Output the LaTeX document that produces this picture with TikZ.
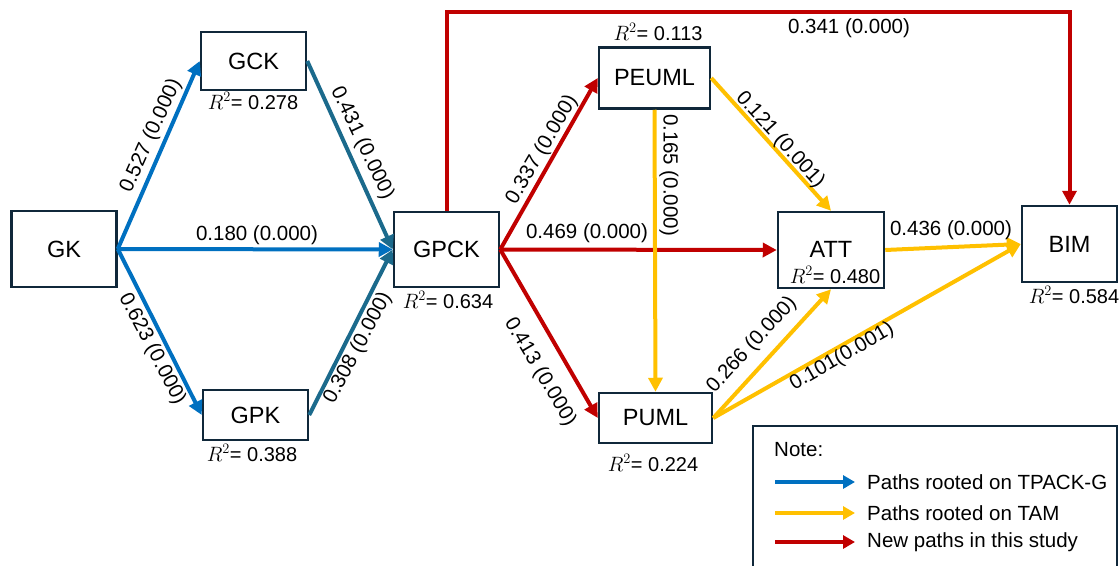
\documentclass[tikz,border=0pt]{standalone}
\usepackage{fontspec}
\setmainfont{Liberation Sans}
\usetikzlibrary{arrows.meta}
\definecolor{cblue}{HTML}{0070C0}
\definecolor{cteal}{HTML}{1B6A8C}
\definecolor{cred}{HTML}{C00000}
\definecolor{cyel}{HTML}{FFC000}
\definecolor{cbox}{HTML}{10283A}
\tikzset{
  vbox/.style={draw=cbox, line width=2.5pt, fill=white, inner sep=0pt, font=\fontsize{23.5}{27}\selectfont},
  conn/.style={line width=4pt, -{Triangle[length=14pt,width=14pt]}},
  lab/.style={inner sep=0pt, font=\fontsize{20.5}{24}\selectfont},
  rsq/.style={inner sep=0pt, font=\fontsize{20}{24}\selectfont},
  legarrow/.style={line width=4pt, -{Triangle[length=12pt,width=13pt]}},
}
\begin{document}
\begin{tikzpicture}[x=1pt,y=-1pt]
\useasboundingbox (0,0) rectangle (1119,565);
\clip (0,0) rectangle (1119,565);
% nodes
\node[vbox, minimum width=105pt, minimum height=76pt] (GK) at (64,249) {GK};
\node[vbox, minimum width=105pt, minimum height=58pt] (GCK) at (253.5,61) {GCK};
\node[vbox, minimum width=105pt, minimum height=50pt] (GPK) at (255.5,415) {GPK};
\node[vbox, minimum width=105pt, minimum height=75pt] (GPCK) at (446.5,249.5) {GPCK};
\node[vbox, minimum width=111pt, minimum height=61pt] (PEUML) at (654.5,78) {PEUML};
\node[vbox, minimum width=113pt, minimum height=50pt] (PUML) at (655.5,418) {PUML};
\node[vbox, minimum width=106pt, minimum height=76pt] (ATT) at (831,250) {};
\node[inner sep=0pt, font=\fontsize{23.5}{27}\selectfont] (ATTt) at (831,249) {ATT};
\node[vbox, minimum width=95pt, minimum height=76pt] (BIM) at (1069.5,244) {BIM};
\coordinate (top) at (0,12);
% connectors
\draw[conn, cblue] (GK.east) -- (GCK.west);
\draw[conn, cblue] (GK.east) -- (GPCK.west);
\draw[conn, cblue] (GK.east) -- (GPK.west);
\draw[conn, cteal] (GCK.east) -- (GPCK.west);
\draw[conn, cteal] (GPK.east) -- (GPCK.west);
\draw[conn, cred] (GPCK.east) -- (PEUML.west);
\draw[conn, cred] (GPCK.east) -- (ATT.west);
\draw[conn, cred] (GPCK.east) -- (PUML.west);
\draw[conn, cred] (GPCK.north) -- (GPCK.north |- top) -| (BIM.north);
\draw[conn, cyel] (PEUML.south) -- (PUML.north);
\draw[conn, cyel] (PEUML.east) -- (ATT.north);
\draw[conn, cyel] (PUML.east) -- (ATT.south);
\draw[conn, cyel] (PUML.east) -- (BIM.west);
\draw[conn, cyel] (ATT.east) -- (BIM.west);
% path labels
\node[lab, rotate=65.8] (l1) at (151,136) {0.527 (0.000)};
\node[lab, rotate=-64.5] (l2) at (362,143) {0.431 (0.000)};
\node[lab] (l3) at (257,235) {0.180 (0.000)};
\node[lab, rotate=-62.3] (l4) at (152,349) {0.623 (0.000)};
\node[lab, rotate=61.8] (l5) at (358,348) {0.308 (0.000)};
\node[lab, rotate=59.7] (l6) at (542,150) {0.337 (0.000)};
\node[lab] (l7) at (587,233) {0.469 (0.000)};
\node[lab, rotate=-59.4] (l8) at (540,372) {0.413 (0.000)};
\node[lab, rotate=-90] (l9) at (669,175) {0.165 (0.000)};
\node[lab, rotate=-48] (l10) at (780,140) {0.121 (0.001)};
\node[lab, rotate=47.5] (l11) at (752,345) {0.266 (0.000)};
\node[lab, rotate=30] (l12) at (842,357) {0.101(0.001)};
\node[lab] (l13) at (951,230) {0.436 (0.000)};
\node[lab] (l14) at (849,28) {0.341 (0.000)};
% R squared
\node[rsq] (r1) at (253,101) {$R^2$= 0.278};
\node[rsq] (r2) at (252,453) {$R^2$= 0.388};
\node[rsq] (r3) at (448,300) {$R^2$= 0.634};
\node[rsq] (r4) at (658,32) {$R^2$= 0.113};
\node[rsq] (r5) at (835,275) {$R^2$= 0.480};
\node[rsq] (r6) at (1074,295) {$R^2$= 0.584};
\node[rsq] (r7) at (653,463) {$R^2$= 0.224};
% legend
\draw[draw=cbox, line width=2pt] (753,426) rectangle (1117,600);
\node[lab, anchor=west] (note) at (774,450) {Note:};
\coordinate (a1s) at (775,482); \coordinate (a1e) at (855,482);
\coordinate (a2s) at (775,513); \coordinate (a2e) at (855,513);
\coordinate (a3s) at (775,542); \coordinate (a3e) at (855,542);
\draw[legarrow, cblue] (a1s) -- (a1e);
\draw[legarrow, cyel] (a2s) -- (a2e);
\draw[legarrow, cred] (a3s) -- (a3e);
\node[lab, anchor=west] (t1) at (867,482) {Paths rooted on TPACK-G};
\node[lab, anchor=west] (t2) at (867,513) {Paths rooted on TAM};
\node[lab, anchor=west] (t3) at (867,542) {New paths in this study};
\end{tikzpicture}
\end{document}
